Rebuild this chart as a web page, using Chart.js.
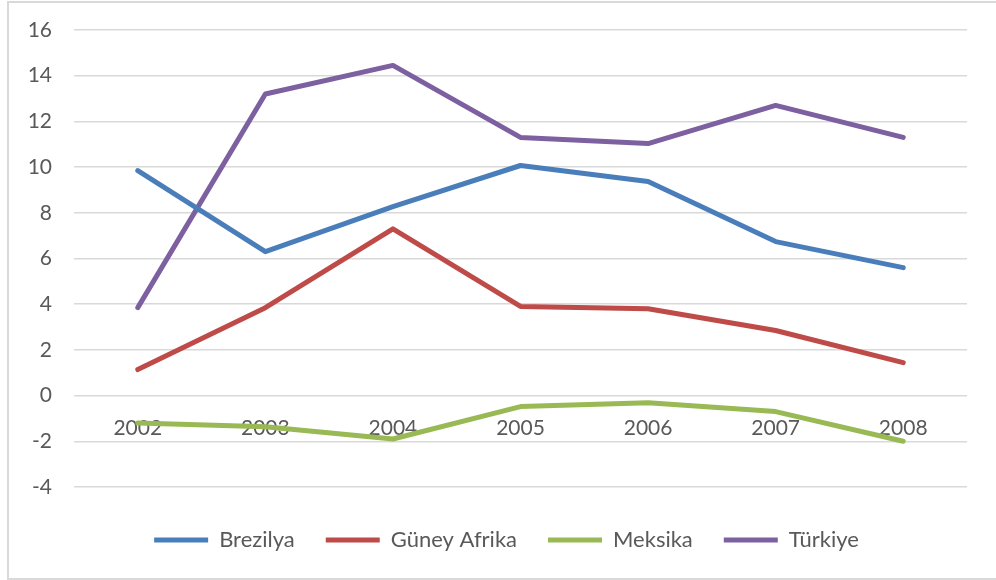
<!DOCTYPE html>
<html lang="tr">

<head>
    <meta charset="UTF-8">
    <title>Büyüme Oranları 2002-2008</title>
    <script src="https://cdn.jsdelivr.net/npm/chart.js"></script>
    <style>
        body {
            margin: 0;
            background: #ffffff;
        }

        .frame {
            position: absolute;
            left: 7px;
            top: 1px;
            width: 1000px;
            height: 575px;
            border: 2px solid #d9d9d9;
        }

        .chart-box {
            position: absolute;
            left: 0;
            top: 0;
            width: 996px;
            height: 580px;
        }
    </style>
</head>

<body>
    <div class="frame"></div>
    <div class="chart-box">
        <canvas id="growthChart" width="996" height="580"></canvas>
    </div>

    <script>
        // Yıllar ve ülke serileri
        var years = ['2002', '2003', '2004', '2005', '2006', '2007', '2008'];
        var brezilya = [9.85, 6.3, 8.27, 10.07, 9.37, 6.74, 5.6];
        var guneyAfrika = [1.14, 3.85, 7.3, 3.9, 3.8, 2.85, 1.44];
        var meksika = [-1.2, -1.36, -1.9, -0.48, -0.31, -0.7, -2.0];
        var turkiye = [3.85, 13.2, 14.45, 11.3, 11.03, 12.7, 11.3];

        var textColor = '#595959';
        var fontFamily = 'Lato, "Open Sans", sans-serif';

        function series(label, values, color) {
            return {
                label: label,
                data: values,
                borderColor: color,
                backgroundColor: color,
                borderWidth: 5,
                borderCapStyle: 'round',
                borderJoinStyle: 'round',
                pointRadius: 0,
                pointHoverRadius: 0,
                pointStyle: 'line',
                tension: 0,
                fill: false
            };
        }

        var ctx = document.getElementById('growthChart').getContext('2d');
        new Chart(ctx, {
            type: 'line',
            data: {
                labels: years,
                datasets: [
                    series('Brezilya', brezilya, '#4a7ebb'),
                    series('Güney Afrika', guneyAfrika, '#be4b48'),
                    series('Meksika', meksika, '#98b954'),
                    series('Türkiye', turkiye, '#7d60a0')
                ]
            },
            options: {
                responsive: false,
                animation: false,
                layout: {
                    padding: { left: 23, right: 6, top: 30, bottom: 19 }
                },
                plugins: {
                    tooltip: { enabled: false },
                    legend: {
                        position: 'bottom',
                        // empty title only adds a little space above the keys
                        title: {
                            display: true,
                            text: '',
                            padding: 0,
                            font: { size: 10, lineHeight: 1.1 }
                        },
                        labels: {
                            usePointStyle: true,
                            pointStyleWidth: 54,
                            boxHeight: 5,
                            padding: 31,
                            color: textColor,
                            font: { family: fontFamily, size: 22 }
                        }
                    }
                },
                scales: {
                    x: {
                        position: { y: 0 },
                        offset: true,
                        grid: { display: false, drawTicks: false },
                        border: { display: false },
                        ticks: {
                            padding: 20,
                            color: textColor,
                            maxRotation: 0,
                            font: { family: fontFamily, size: 21 }
                        }
                    },
                    y: {
                        min: -4,
                        max: 16,
                        ticks: {
                            stepSize: 2,
                            padding: 22,
                            color: textColor,
                            font: { family: fontFamily, size: 21 }
                        },
                        grid: {
                            color: '#d9d9d9',
                            lineWidth: 1.5,
                            drawTicks: false
                        },
                        border: { display: false },
                        afterFit: function (scale) {
                            scale.width = 51;
                            scale.paddingTop = 0;
                            scale.paddingBottom = 0;
                        }
                    },
                    // empty right margin so the plot ends where the frame leaves room
                    yRight: {
                        position: 'right',
                        ticks: { display: false },
                        grid: { display: false },
                        border: { display: false },
                        afterFit: function (scale) {
                            scale.width = 23;
                            scale.paddingTop = 0;
                            scale.paddingBottom = 0;
                        }
                    }
                }
            }
        });
    </script>
</body>

</html>
